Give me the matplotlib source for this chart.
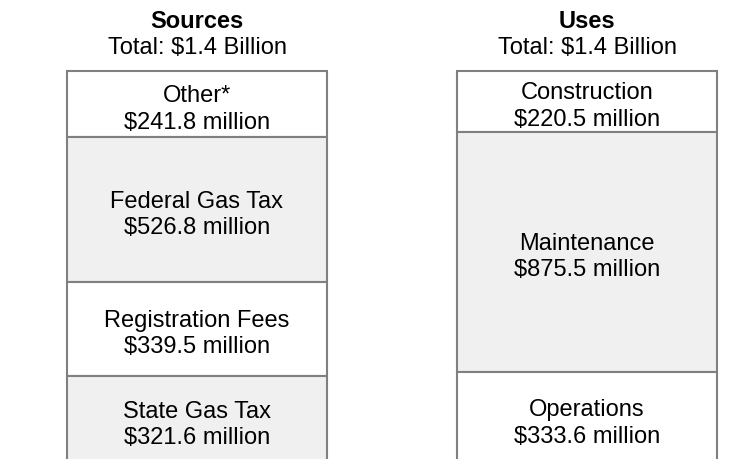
import matplotlib
matplotlib.use("Agg")
import matplotlib.pyplot as plt
from matplotlib.transforms import blended_transform_factory

plt.rcParams['font.family'] = ['Liberation Sans', 'DejaVu Sans']

# Data (top to bottom of each stack)
columns = ["Sources", "Uses"]
totals_text = ["Total: $1.4 Billion", "Total: $1.4 Billion"]
source_labels = ["Other*", "Federal Gas Tax", "Registration Fees", "State Gas Tax"]
source_values = [241.8, 526.8, 339.5, 321.6]
use_labels = ["Construction", "Maintenance", "Operations"]
use_values = [220.5, 875.5, 333.6]

W, H = 754, 460
fig = plt.figure(figsize=(W / 100, H / 100), dpi=100)

top_px = 72
px_per_m = 0.275
total_max = max(sum(source_values), sum(use_values))
ax_h_px = total_max * px_per_m
bottom_px = top_px + ax_h_px
ax = fig.add_axes([67 / W, 1 - bottom_px / H, (717 - 67) / W, ax_h_px / H])
ax.set_xlim(-1 / 3, 4 / 3)
ax.set_ylim(total_max, 0)
ax.axis('off')

fills = ["white", "#f0f0f0"]
edge = "#808080"
fs = 17

def draw_stack(xpos, labels, values):
    start = 0.0
    for i, (lab, v) in enumerate(zip(labels, values)):
        ax.bar(xpos, v, bottom=start, width=2 / 3, color=fills[i % 2],
               edgecolor=edge, linewidth=1.5, clip_on=False)
        ax.annotate(f"{lab}\n${v:.1f} million", xy=(xpos, start + v / 2),
                    xytext=(0, -3), textcoords='offset points',
                    ha='center', va='center', fontsize=fs, linespacing=1.25,
                    color='black')
        start += v

draw_stack(0, source_labels, source_values)
draw_stack(1, use_labels, use_values)

trans = blended_transform_factory(ax.transData, fig.transFigure)
for i, (name, tot) in enumerate(zip(columns, totals_text)):
    ax.text(i, 1 - 21 / H, name, transform=trans, ha='center', va='center',
            fontsize=fs, fontweight='bold')
    ax.text(i, 1 - 48 / H, tot, transform=trans, ha='center', va='center',
            fontsize=fs)

fig.savefig("out.png", dpi=100)
